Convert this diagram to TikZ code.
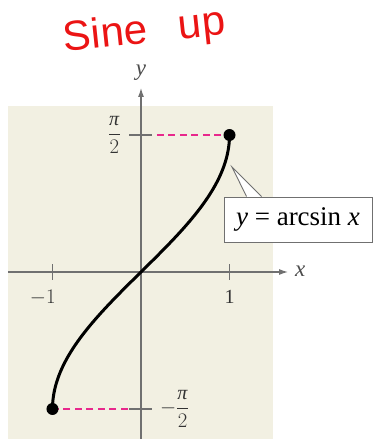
\documentclass[tikz,border=0pt]{standalone}
\usepackage{amsmath}
\usepackage{fontspec}
\setmainfont{Liberation Serif}
\newfontfamily\handfont{Liberation Sans}
\usetikzlibrary{arrows.meta,calc}
\definecolor{paper}{RGB}{242,240,226}
\definecolor{axisgray}{RGB}{112,112,112}
\definecolor{guide}{RGB}{232,40,140}
\definecolor{ink}{RGB}{235,20,20}
\tikzset{
  axisline/.style={axisgray,line width=1.1pt},
  ticklabel/.style={inner sep=1pt,font=\fontsize{20}{20}\selectfont,text=black!80},
  axislabel/.style={inner sep=1pt,font=\fontsize{23}{23}\selectfont,text=black!70},
  guideline/.style={guide,line width=1.4pt,dash pattern=on 7pt off 4.5pt}
}

\begin{document}
\begin{tikzpicture}[x=88.5pt,y=87.2pt]
  \useasboundingbox (-1.593,-1.915) rectangle (2.667,3.119);
  % Coordinates
  \coordinate (O) at (0,0);
  \coordinate (P) at (1,{pi/2});
  \coordinate (Q) at (-1,{-pi/2});
  \coordinate (Py) at (0.18,{pi/2});
  \coordinate (Qy) at (-0.15,{-pi/2});
  \coordinate (XL) at (-1.503,0);
  \coordinate (XR) at (1.661,0);
  \coordinate (YB) at (0,-1.915);
  \coordinate (YT) at (0,2.110);
  \coordinate (Tip) at (1.028,1.204);
  % Domain
  \fill[paper] (-1.503,-1.915) rectangle (1.492,1.904);
  % Axes
  \draw[axisline,-{Latex[length=9pt,width=6pt]}] (XL)--(XR);
  \draw[axisline,-{Latex[length=9pt,width=6pt]}] (YB)--(YT);
  \foreach \t in {-1,1} {
      \draw[axisline] (\t,-0.09)--(\t,0.09);
    }
  \foreach \t in {-1,1} {
      \draw[axisline] (-0.13,{\t*pi/2})--(0.12,{\t*pi/2});
    }
  % Dashed guides
  \draw[guideline] (Py)--(P);
  \draw[guideline] (Qy)--(Q);
  % Curve
  \draw[line width=3pt,line cap=round] plot[domain=-90:90,samples=90] ({sin(\x)},{\x*pi/180});
  \foreach \P in {P,Q} {
      \fill[black] (\P) circle (6pt);
    }
  % Labels
  \node[axislabel] (ylab) at (0,2.29) {\textit{y}};
  \node[axislabel] (xlab) at (1.80,0.01) {\textit{x}};
  \node[ticklabel] (mone) at (-1.11,-0.29) {$-1$};
  \node[ticklabel] (one) at (1,-0.29) {1};
  \node[ticklabel] (halfpi) at (-0.30,{pi/2}) {$\dfrac{\text{\textit{π}}}{2}$};
  \node[ticklabel] (mhalfpi) at (0.38,{-pi/2}) {$-\dfrac{\text{\textit{π}}}{2}$};
  % Callout
  \node[draw=axisgray,fill=white,line width=0.9pt,minimum width=148pt,minimum height=45pt,
        inner sep=2pt,font=\fontsize{27}{27}\selectfont] (fname) at (1.774,0.602)
        {\textit{y} = arcsin \textit{x}};
  \coordinate (b1) at ($(fname.north west)+(23pt,0)$);
  \coordinate (b2) at ($(fname.north west)+(38pt,0)$);
  \fill[white] (b1)--(Tip)--(b2)--cycle;
  \draw[white,line width=1.2pt] ($(b1)+(0.6pt,0)$)--($(b2)-(0.6pt,0)$);
  \draw[axisgray,line width=0.9pt,line join=miter] (b1)--(Tip)--(b2);
  % Note
  \node[text=ink,font=\handfont\fontsize{42}{42}\selectfont,rotate=6,inner sep=0pt] (note) at (0.04,2.75)
        {Sine\hspace{0.75em}up};
\end{tikzpicture}
\end{document}
